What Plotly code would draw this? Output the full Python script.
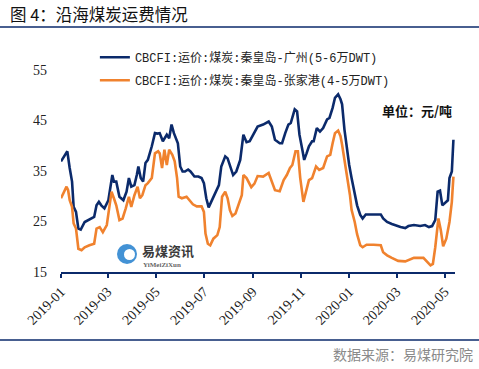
import plotly.graph_objects as go

# ---------------- data ----------------
gz_dates = ["2019-01-01","2019-01-09","2019-01-12","2019-01-15","2019-01-17","2019-01-20","2019-01-23","2019-01-26","2019-01-31",
            "2019-02-09","2019-02-12","2019-02-15","2019-02-18","2019-02-21","2019-02-25",
            "2019-03-02","2019-03-07","2019-03-09","2019-03-12","2019-03-16","2019-03-21","2019-03-25","2019-03-28","2019-03-31",
            "2019-04-04","2019-04-07","2019-04-09","2019-04-12","2019-04-15","2019-04-18","2019-04-21","2019-04-26","2019-04-30",
            "2019-05-03","2019-05-06","2019-05-10","2019-05-15","2019-05-18","2019-05-21","2019-05-24","2019-05-29",
            "2019-06-01","2019-06-04","2019-06-07","2019-06-11","2019-06-14","2019-06-19","2019-06-24","2019-06-28",
            "2019-07-01","2019-07-04","2019-07-07","2019-07-11","2019-07-15","2019-07-20","2019-07-23","2019-07-28","2019-07-31",
            "2019-08-03","2019-08-07","2019-08-11","2019-08-16","2019-08-20","2019-08-24","2019-08-28",
            "2019-09-02","2019-09-07","2019-09-14","2019-09-21","2019-09-25","2019-09-29",
            "2019-10-05","2019-10-08","2019-10-12","2019-10-16","2019-10-19","2019-10-24","2019-10-27","2019-10-30",
            "2019-11-03","2019-11-05","2019-11-08","2019-11-11","2019-11-15","2019-11-17","2019-11-21","2019-11-25","2019-11-29",
            "2019-12-04","2019-12-07","2019-12-11","2019-12-14","2019-12-18","2019-12-21","2019-12-23","2019-12-26","2019-12-29",
            "2020-01-01","2020-01-04","2020-01-08","2020-01-11","2020-01-15","2020-01-18","2020-01-22","2020-01-27",
            "2020-02-10","2020-02-13","2020-02-18","2020-02-24",
            "2020-03-01","2020-03-06","2020-03-12","2020-03-16","2020-03-23","2020-03-31",
            "2020-04-06","2020-04-11","2020-04-15","2020-04-19","2020-04-22","2020-04-25","2020-04-28",
            "2020-05-03","2020-05-05","2020-05-07","2020-05-10","2020-05-12"]
gz_values = [36.9,38.9,35.6,32.9,27.9,26.9,23.6,23.4,24.9,
             25.6,25.9,28.2,28.9,28.2,27.6,
             29.2,34.2,32.9,32.9,29.9,29.2,30.9,33.6,31.9,
             32.2,34.2,35.9,33.6,32.9,36.6,37.2,39.9,42.5,
             42.4,42.5,40.9,42.2,41.5,44.2,42.5,40.5,
             35.9,34.9,34.9,35.3,34.9,33.9,33.9,33.6,
             32.6,29.6,27.8,29.2,30.6,32.2,35.9,37.9,37.5,
             35.9,34.2,34.9,37.2,42.2,40.7,40.9,
             42.5,43.8,44.2,44.8,43.8,41.2,
             40.5,40.5,42.5,44.2,44.5,47.2,46.8,42.2,
             38.9,37.2,38.5,39.9,40.9,40.9,43.5,42.8,43.5,
             45.2,45.5,47.5,49.5,50.2,49.2,48.2,43.2,39.5,
             36.2,33.6,30.2,28.2,26.3,25.6,26.4,26.4,
             26.4,25.6,24.9,24.5,
             24.1,23.9,23.7,24.1,24.3,24.1,
             24.3,23.9,24.1,25.3,30.9,31.1,28.2,
             28.9,29.2,33.6,34.9,41.2]

zjg_dates = ["2019-01-01","2019-01-08","2019-01-10","2019-01-12","2019-01-15","2019-01-17","2019-01-20","2019-01-23","2019-01-27","2019-01-31",
             "2019-02-06","2019-02-12","2019-02-15","2019-02-19","2019-02-23","2019-02-28",
             "2019-03-03","2019-03-06","2019-03-09","2019-03-12","2019-03-16","2019-03-20","2019-03-24","2019-03-28","2019-03-31",
             "2019-04-04","2019-04-08","2019-04-11","2019-04-14","2019-04-18","2019-04-21","2019-04-26","2019-04-30",
             "2019-05-04","2019-05-06","2019-05-09","2019-05-12","2019-05-15","2019-05-18","2019-05-22","2019-05-25","2019-05-28","2019-05-30",
             "2019-06-03","2019-06-09","2019-06-13","2019-06-17","2019-06-22","2019-06-28",
             "2019-07-01","2019-07-03","2019-07-06","2019-07-09","2019-07-13","2019-07-18","2019-07-21","2019-07-24","2019-07-28","2019-07-31",
             "2019-08-03","2019-08-06","2019-08-10","2019-08-14","2019-08-18","2019-08-20","2019-08-24","2019-08-30",
             "2019-09-03","2019-09-07","2019-09-14","2019-09-21","2019-09-25","2019-09-29",
             "2019-10-05","2019-10-10","2019-10-14","2019-10-18","2019-10-21","2019-10-25","2019-10-28","2019-10-31",
             "2019-11-04","2019-11-07","2019-11-11","2019-11-15","2019-11-20","2019-11-24","2019-11-29",
             "2019-12-04","2019-12-08","2019-12-11","2019-12-14","2019-12-18","2019-12-21","2019-12-23","2019-12-28","2019-12-31",
             "2020-01-02","2020-01-04","2020-01-08","2020-01-11","2020-01-15","2020-01-18","2020-01-23",
             "2020-02-01","2020-02-10","2020-02-13","2020-02-18","2020-02-24",
             "2020-03-03","2020-03-12","2020-03-16","2020-03-23",
             "2020-04-04","2020-04-09","2020-04-13","2020-04-16","2020-04-19","2020-04-23","2020-04-26","2020-04-29",
             "2020-05-03","2020-05-07","2020-05-10","2020-05-12"]
zjg_values = [29.6,31.9,31.2,29.2,27.9,24.6,23.6,19.6,19.3,19.9,
              20.3,20.6,23.6,23.9,22.9,24.3,
              27.6,30.9,29.6,28.2,25.3,25.6,27.6,29.9,27.9,
              30.2,31.9,29.6,30.2,32.2,32.6,33.6,38.5,
              38.9,38.5,35.6,39.2,36.2,39.2,38.2,36.9,33.6,29.9,
              29.6,29.9,29.2,28.4,28.0,28.0,
              26.9,22.6,20.6,20.3,21.6,22.3,23.9,29.9,30.9,29.6,
              27.2,26.1,26.6,28.6,30.2,34.2,33.6,31.8,
              32.5,34.0,33.9,34.6,32.9,31.2,
              31.0,33.2,34.2,35.6,36.2,38.9,38.9,33.6,
              28.9,30.6,33.2,33.6,35.9,35.2,35.6,
              37.9,38.2,40.5,42.5,43.0,41.9,40.2,35.6,32.2,
              30.2,27.3,24.9,22.5,20.3,19.9,20.4,
              20.4,20.3,18.9,18.3,17.8,
              17.2,17.1,17.4,17.8,
              17.8,17.0,16.3,16.6,19.9,25.6,23.3,20.1,
              21.6,24.9,28.9,33.9]

series_names = ["CBCFI:运价:煤炭:秦皇岛-广州(5-6万DWT)",
                "CBCFI:运价:煤炭:秦皇岛-张家港(4-5万DWT)"]
y_ticks = [15, 25, 35, 45, 55]
x_tick_labels = ["2019-01", "2019-03", "2019-05", "2019-07", "2019-09",
                 "2019-11", "2020-01", "2020-03", "2020-05"]

NAVY = "#0b2a6b"
ORANGE = "#f0822e"

fig = go.Figure()
fig.add_trace(go.Scatter(x=gz_dates, y=gz_values, mode="lines", name=series_names[0],
                         line=dict(color=NAVY, width=2.6), legendgroup="a"))
fig.add_trace(go.Scatter(x=zjg_dates, y=zjg_values, mode="lines", name=series_names[1],
                         line=dict(color=ORANGE, width=2.6), legendgroup="b"))

fig.update_layout(
    width=479, height=369,
    margin=dict(l=61, r=24, t=70, b=97),
    paper_bgcolor="white", plot_bgcolor="white",
    showlegend=True,
    legend=dict(x=0.086, y=1.135, xanchor="left", yanchor="top",
                bgcolor="rgba(0,0,0,0)", tracegroupgap=4,
                font=dict(family="Liberation Mono, Noto Sans CJK SC", size=12, color="#222")),
    xaxis=dict(range=["2019-01-01", "2020-05-14"], tickvals=[l + "-01" for l in x_tick_labels],
               ticktext=x_tick_labels, tickangle=-45,
               showgrid=False, showline=True, linecolor=NAVY, linewidth=2,
               ticks="outside", ticklen=4, tickwidth=1.5, tickcolor=NAVY,
               tickfont=dict(family="Liberation Serif", size=14, color="#222"),
               zeroline=False),
    yaxis=dict(range=[15, 55], tickvals=y_ticks, showgrid=False, showline=False, zeroline=False,
               ticks="", ticklabelstandoff=13,
               tickfont=dict(family="Liberation Serif", size=14, color="#222")),
)

# Title and frame lines
fig.add_annotation(text="图 4：沿海煤炭运费情况", xref="paper", yref="paper",
                   x=(8 - 61)/394, y=1 + (70 - 14)/202, xanchor="left", yanchor="middle",
                   showarrow=False, font=dict(family="Noto Sans CJK SC", size=16.5, color="#111"))
fig.add_shape(type="line", xref="paper", yref="paper", x0=-61/394, x1=1 + 24/394,
              y0=1 + (70 - 27)/202, y1=1 + (70 - 27)/202, line=dict(color=NAVY, width=1.5))
fig.add_shape(type="line", xref="paper", yref="paper", x0=-61/394, x1=1 + 24/394,
              y0=-(340 - 272)/202, y1=-(340 - 272)/202, line=dict(color=NAVY, width=1.5))
fig.add_annotation(text="数据来源：易煤研究院", xref="paper", yref="paper",
                   x=1 + 20/394, y=-(354 - 272)/202, xanchor="right", yanchor="middle",
                   showarrow=False, font=dict(family="Noto Sans CJK SC", size=14, color="#8a8a8a"))
fig.add_annotation(text="<b>单位：元/吨</b>", xref="paper", yref="paper",
                   x=(454 - 61)/394, y=(272 - 110)/202, xanchor="right", yanchor="middle",
                   showarrow=False, font=dict(family="Noto Sans CJK SC", size=13, color="#111"))

# Watermark logo
fig.add_shape(type="circle", xref="paper", yref="paper", xsizemode="pixel", ysizemode="pixel",
              xanchor=(127 - 61)/394, yanchor=(272 - 254)/202, x0=-10, x1=10, y0=-10, y1=10,
              fillcolor="#2f86d0", line=dict(width=0), opacity=0.9)
fig.add_shape(type="circle", xref="paper", yref="paper", xsizemode="pixel", ysizemode="pixel",
              xanchor=(127 - 61)/394, yanchor=(272 - 254)/202, x0=-3, x1=8, y0=-6, y1=5,
              fillcolor="white", line=dict(width=0))
fig.add_annotation(text="<b>易煤资讯</b>", xref="paper", yref="paper",
                   x=(140 - 61)/394, y=(272 - 250)/202, xanchor="left", yanchor="middle",
                   showarrow=False, font=dict(family="Noto Sans CJK SC", size=13, color="#3a3a3a"))
fig.add_annotation(text="<b>YiMeiZiXun</b>", xref="paper", yref="paper",
                   x=(141 - 61)/394, y=(272 - 265)/202, xanchor="left", yanchor="middle",
                   showarrow=False, font=dict(family="Liberation Serif", size=7, color="#666"))

fig.write_html("out.html", config={"displayModeBar": False},
               post_script="document.body.style.margin='0';document.body.style.padding='0';")
